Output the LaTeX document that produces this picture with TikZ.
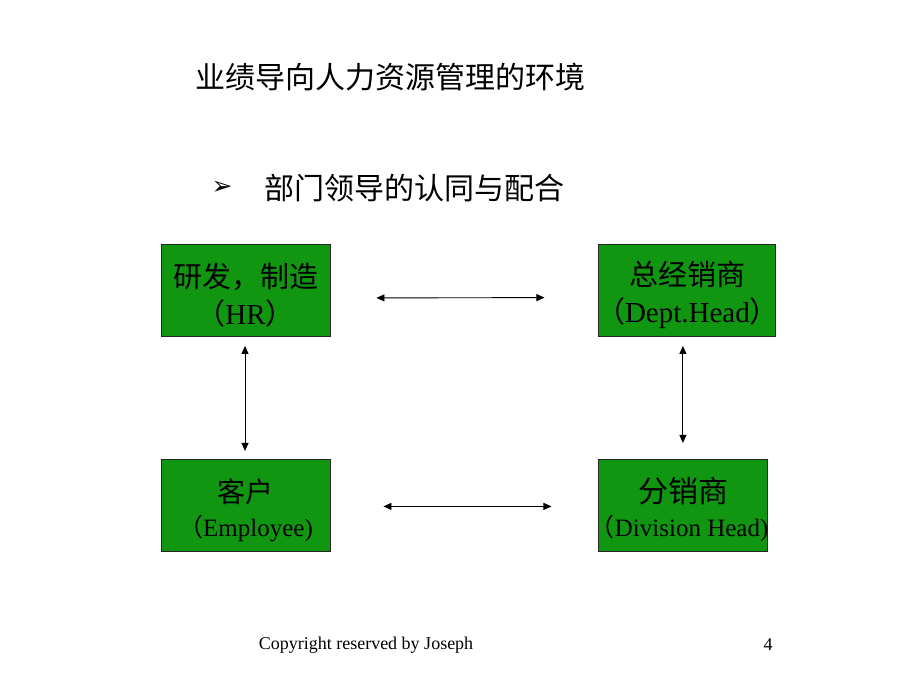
\documentclass[tikz,border=0pt]{standalone}
\usepackage{fontspec}
\setmainfont{Liberation Serif}
\newfontfamily\cjk{Noto Sans CJK SC}
\newfontfamily\dingfont{DejaVu Sans}
\usepackage{tikz}
\usetikzlibrary{arrows.meta,positioning}

\definecolor{boxgreen}{RGB}{17,150,17}
\newcommand\tall[1]{\rule{0pt}{#1}}

\begin{document}
\begin{tikzpicture}[x=1pt,y=-1pt,<->,>={Triangle[length=8pt,width=7pt]},line width=0.9pt,
	node distance=122pt]
	\tikzstyle{role}=[draw=black!85,fill=boxgreen,minimum width=169pt,minimum height=92pt,
		inner sep=0pt,align=center,font=\fontsize{29}{37}\selectfont,text=black]
	\useasboundingbox[fill=white] (0,0) rectangle (920,690);

	% heading
	\node[anchor=west,font=\cjk\fontsize{30}{36}\selectfont] (title) at (192,77) {业绩导向人力资源管理的环境};
	\node[font=\dingfont\fontsize{25}{26}\selectfont] (bullet) at (222,188) {➢};
	\node[anchor=west,font=\cjk\fontsize{30}{36}\selectfont] (sub) at (261,188) {部门领导的认同与配合};

	% the four boxes
	\node[role] (HR) at (245.5,290.5) {\tall{34pt}{\cjk 研发，制造}\\{\cjk （}HR{\cjk ）}};
	\node[role,minimum width=177pt] (Dept) [right=268pt of HR]
		{\tall{34pt}{\cjk 总经销商}\\\makebox[177pt][c]{{\cjk （}Dept.Head{\cjk ）}}};
	\node[role,font=\fontsize{25}{34}\selectfont] (Emp) [below=122pt of HR]
		{\tall{33pt}{\cjk\fontsize{28}{34}\selectfont 客户}\\{\cjk （}Employee)};
	\node[role,font=\fontsize{25}{34}\selectfont] (Div) [right=268pt of Emp]
		{\tall{34pt}{\cjk\fontsize{30}{34}\selectfont 分销商}\\\makebox[169pt][l]{\hspace{-9pt}{\cjk （}Division Head)}};

	\path ([yshift=-7.5pt]HR.east) edge[shorten <=46pt,shorten >=54pt] ([yshift=-7pt]Dept.west);
	\path ([yshift=-1pt]Emp.east) edge[shorten <=53pt,shorten >=47pt] ([yshift=-1pt]Div.west);
	\path ([xshift=-0.5pt]HR.south) edge[shorten <=9pt,shorten >=8pt] ([xshift=-0.5pt]Emp.north);
	\path ([xshift=-4.5pt]Dept.south) edge[shorten <=9pt,shorten >=16pt] ([xshift=-0.5pt]Div.north);

	% footer
	\node[font=\fontsize{18}{20}\selectfont] (copy) at (366,645) {Copyright reserved by Joseph};
	\node[font=\fontsize{18}{20}\selectfont] (page) at (768,645) {4};
\end{tikzpicture}
\end{document}
